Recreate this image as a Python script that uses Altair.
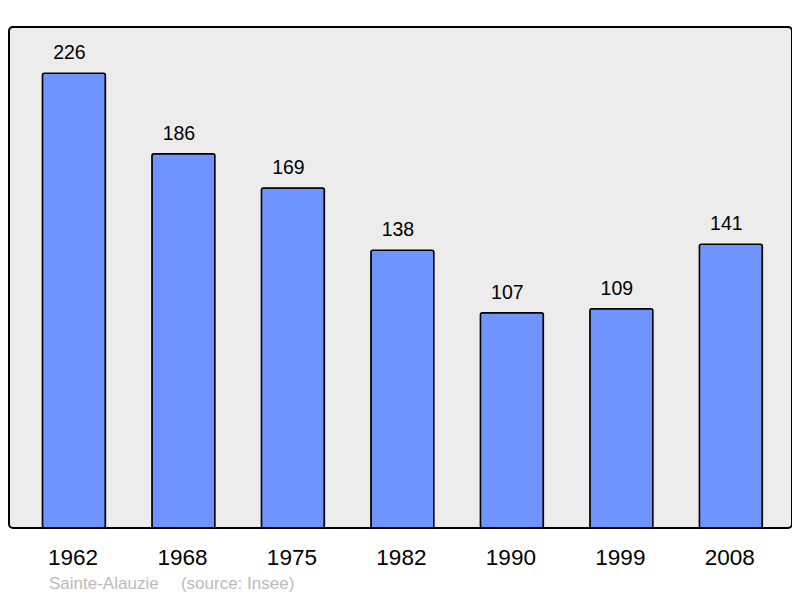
import altair as alt
import pandas as pd

years = ["1962", "1968", "1975", "1982", "1990", "1999", "2008"]
population = [226, 186, 169, 138, 107, 109, 141]
caption = "Sainte-Alauzie" + "\u00a0" * 4 + "\u2009(source: Insee)"

df = pd.DataFrame({"year": years, "pop": population})

FONT = "Liberation Sans"

x_enc = alt.X(
    "year:N",
    sort=years,
    title=None,
    scale=alt.Scale(paddingInner=0.4247, paddingOuter=0.288, align=0.53),
    axis=alt.Axis(
        labelAngle=0,
        labelFontSize=22.5,
        labelFont=FONT,
        labelColor="#000000",
        labelPadding=18,
        labelOffset=-1,
        ticks=False,
        domain=False,
        grid=False,
    ),
)
y_enc = alt.Y(
    "pop:Q",
    title=None,
    scale=alt.Scale(domain=[0, 249], nice=False, zero=True),
    axis=None,
)

bars = alt.Chart(df).mark_bar(
    color="#7094ff",
    stroke="#000000",
    strokeWidth=1.5,
    cornerRadius=2,
).encode(x=x_enc, y=y_enc)

labels = alt.Chart(df).mark_text(
    baseline="alphabetic",
    dy=-14,
    dx=-4.5,
    fontSize=19.5,
    font=FONT,
    color="#000000",
).encode(x=x_enc, y=y_enc, text="pop:Q")

chart = (
    alt.layer(bars, labels)
    .properties(
        width=783,
        height=501,
        autosize=alt.AutoSizeParams(type="none"),
        padding={"left": 1, "top": 19, "right": 0, "bottom": 70},
        background="#ffffff",
        title=alt.TitleParams(
            text=caption,
            orient="bottom",
            anchor="start",
            dx=40,
            offset=7,
            fontSize=17,
            font=FONT,
            fontWeight="normal",
            color="#bbbbbb",
        ),
    )
    .configure_view(
        fill="#ececec",
        stroke="#000000",
        strokeWidth=2,
        cornerRadius=4,
    )
)

chart.save("out.html", embed_options={"renderer": "svg", "actions": False})
